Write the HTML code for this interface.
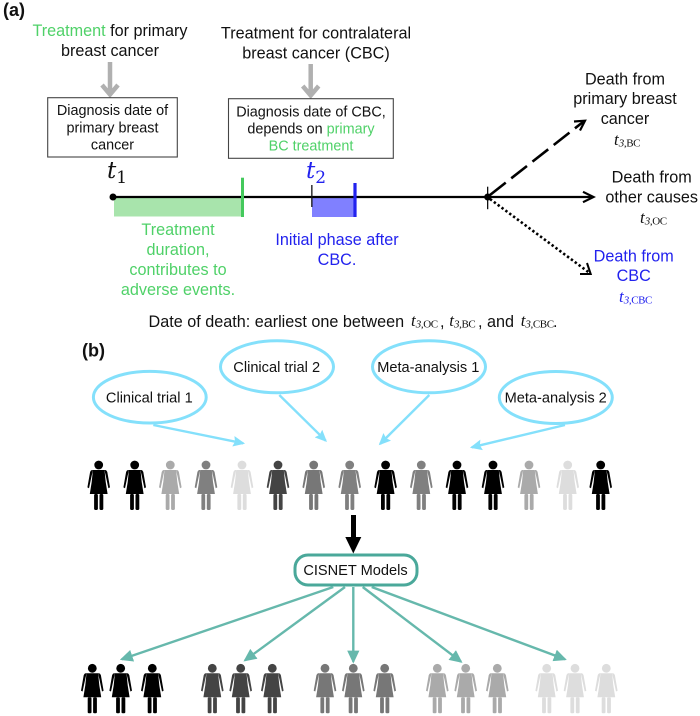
<!DOCTYPE html>
<html><head><meta charset="utf-8"><style>
html,body{margin:0;padding:0;background:#fff}
svg{display:block;filter:blur(.35px)}
text{font-family:"Liberation Sans",sans-serif;font-size:16.2px;fill:#111}
.c{text-anchor:middle}
.s{font-size:14.4px}
.m{font-size:14.6px}
.g{fill:#4fd168}
.b{fill:#2222ee}
.h{font-size:18px;font-weight:bold}
.t{font-family:"Liberation Serif",serif;font-style:italic;font-size:17px}
.t tspan{font-size:11px;letter-spacing:-.4px}
.t .u{font-style:normal}
.big{font-family:"DejaVu Serif","Liberation Serif",serif;font-style:italic;font-size:23px}
.big tspan{font-style:normal;font-size:17px}
</style></head><body>
<svg xmlns="http://www.w3.org/2000/svg" width="700" height="716" viewBox="0 0 700 716">
<defs>
<g id="p">
<circle cx="0" cy="0" r="4.4"/>
<path d="M-5.8 5H5.8L6.3 10L7 17L8.9 29H-8.9L-7 17L-6.3 10Z"/>
<path d="M5.8 5H6.8Q8 5.3 8.6 7L11.3 22.4L9.7 23.2L7 10.5L6.4 8Z"/>
<path d="M-5.8 5H-6.8Q-8 5.3-8.6 7L-11.3 22.4L-9.7 23.2L-7 10.5L-6.4 8Z"/>
<rect x="-4.6" y="29" width="3.8" height="16" rx="1.2"/>
<rect x="0.8" y="29" width="3.8" height="16" rx="1.2"/>
</g>
<marker id="ab" markerUnits="userSpaceOnUse" markerWidth="12" markerHeight="12" refX="8.5" refY="5" orient="auto" viewBox="0 0 10 10"><path d="M0 .5L10 5L0 9.5L1.5 5Z" fill="#84e0fb"/></marker>
<marker id="at" markerUnits="userSpaceOnUse" markerWidth="13" markerHeight="13" refX="8.5" refY="5" orient="auto" viewBox="0 0 10 10"><path d="M0 .3L10 5L0 9.7Z" fill="#66b8ac"/></marker>
</defs>

<text x="3" y="16" class="h">(a)</text>
<text x="110" y="36" class="c"><tspan class="g">Treatment</tspan> for primary</text>
<text x="110" y="56" class="c">breast cancer</text>
<text x="316" y="38.5" class="c">Treatment for contralateral</text>
<text x="316" y="58.5" class="c">breast cancer (CBC)</text>

<g fill="none" stroke="#b0b0b0" stroke-width="4.5">
<path d="M110 62V94M102 85L110 94.5L118 85"/>
<path d="M310.7 64V95M302.7 86L310.7 95.5L318.7 86"/>
</g>

<rect x="47.7" y="97.7" width="129.6" height="59.3" fill="#fff" stroke="#444" stroke-width="1.1"/>
<rect x="228.5" y="98.7" width="164.8" height="59.6" fill="#fff" stroke="#444" stroke-width="1.1"/>
<text x="112.5" y="115" class="c s">Diagnosis date of</text>
<text x="112.5" y="132.7" class="c s">primary breast</text>
<text x="112.5" y="149.7" class="c s">cancer</text>
<text x="311" y="116.3" class="c s">Diagnosis date of CBC,</text>
<text x="311" y="133.3" class="c s">depends on <tspan class="g">primary</tspan></text>
<text x="311" y="150.7" class="c s g">BC treatment</text>

<text x="107" y="178" class="big">t<tspan dy="5">1</tspan></text>
<text x="306" y="178" class="big b" style="fill:#2222ee">t<tspan dy="5">2</tspan></text>

<rect x="114" y="198" width="128" height="18.5" fill="#a8e4ac"/>
<rect x="312" y="198" width="43" height="19" fill="#8080ff"/>
<path d="M113 197H593" stroke="#000" stroke-width="2.2" fill="none"/>
<path d="M583 191.8L593.5 197L583 202.2" stroke="#000" stroke-width="2.2" fill="none"/>
<circle cx="113" cy="197" r="3.5"/>
<rect x="241" y="177.7" width="3" height="39.3" fill="#44c95c"/>
<rect x="311.2" y="185" width="1.3" height="22" fill="#111"/>
<rect x="353.4" y="183" width="3.2" height="34" fill="#2222ee"/>
<rect x="487" y="186.7" width="1.3" height="22.5" fill="#111"/>
<circle cx="487.7" cy="197" r="3.5"/>

<path d="M490 195L583 122" stroke="#000" stroke-width="2.6" stroke-dasharray="20 7" fill="none"/>
<path d="M574 121.5L585 120.7L580 130.5" stroke="#000" stroke-width="2.2" fill="none"/>
<path d="M490 199L589 272.5" stroke="#000" stroke-width="2.6" stroke-dasharray="2.4 2.4" fill="none"/>
<path d="M580 274L590.7 274L587 263" stroke="#000" stroke-width="2" fill="none"/>

<text x="178" y="235" class="c g">Treatment</text>
<text x="178" y="255" class="c g">duration,</text>
<text x="178" y="275" class="c g">contributes to</text>
<text x="178" y="295" class="c g">adverse events.</text>
<text x="337" y="245" class="c b">Initial phase after</text>
<text x="337" y="265" class="c b">CBC.</text>

<text x="625" y="84.3" class="c">Death from</text>
<text x="625" y="104" class="c">primary breast</text>
<text x="625" y="124" class="c">cancer</text>
<text x="614" y="145" class="t">t<tspan dy="1.5">3,</tspan><tspan class="u">BC</tspan></text>
<text x="651.7" y="182.7" class="c">Death from</text>
<text x="651.7" y="202.7" class="c">other causes</text>
<text x="640" y="223" class="t">t<tspan dy="1.5">3,</tspan><tspan class="u">OC</tspan></text>
<text x="633.7" y="261.7" class="c b">Death from</text>
<text x="633.7" y="281" class="c b">CBC</text>
<text x="619" y="302" class="t" style="fill:#2222ee">t<tspan dy="1.5">3,</tspan><tspan class="u">CBC</tspan></text>

<text x="148.5" y="327">Date of death: earliest one between</text>
<text x="411" y="326" class="t">t<tspan dy="1.5">3,</tspan><tspan class="u">OC</tspan></text>
<text x="440" y="327">,</text>
<text x="449.3" y="326" class="t">t<tspan dy="1.5">3,</tspan><tspan class="u">BC</tspan></text>
<text x="478" y="327">,</text>
<text x="487" y="327">and</text>
<text x="520.7" y="326" class="t">t<tspan dy="1.5">3,</tspan><tspan class="u">CBC</tspan></text>
<text x="553" y="327">.</text>

<text x="82" y="356.7" class="h">(b)</text>

<g fill="none" stroke="#84e0fb" stroke-width="3">
<ellipse cx="149.8" cy="397.2" rx="56.4" ry="25.8"/>
<ellipse cx="277" cy="366.8" rx="56.5" ry="26"/>
<ellipse cx="429" cy="366.8" rx="56.5" ry="26"/>
<ellipse cx="555.8" cy="397.5" rx="56.5" ry="26"/>
</g>
<text x="149.3" y="402.7" class="c m">Clinical trial 1</text>
<text x="276.7" y="372" class="c m">Clinical trial 2</text>
<text x="428.3" y="372" class="c m">Meta-analysis 1</text>
<text x="555.7" y="402.7" class="c m">Meta-analysis 2</text>

<g stroke="#84e0fb" stroke-width="2.4" fill="none">
<path d="M153.3 425L243.3 443.3" marker-end="url(#ab)"/>
<path d="M279.3 395L325.7 440.7" marker-end="url(#ab)"/>
<path d="M429.3 395L380 444" marker-end="url(#ab)"/>
<path d="M565 425L471.7 447.3" marker-end="url(#ab)"/>
</g>

<use href="#p" x="98.7" y="465" fill="#000"/>
<use href="#p" x="134.7" y="465" fill="#000"/>
<use href="#p" x="170.3" y="465" fill="#aaa"/>
<use href="#p" x="206" y="465" fill="#808080"/>
<use href="#p" x="242" y="465" fill="#ddd"/>
<use href="#p" x="278" y="465" fill="#444"/>
<use href="#p" x="313.7" y="465" fill="#777"/>
<use href="#p" x="349.7" y="465" fill="#808080"/>
<use href="#p" x="385.6" y="465" fill="#000"/>
<use href="#p" x="421.3" y="465" fill="#808080"/>
<use href="#p" x="457" y="465" fill="#000"/>
<use href="#p" x="493" y="465" fill="#000"/>
<use href="#p" x="529" y="465" fill="#aaa"/>
<use href="#p" x="567.7" y="465" fill="#ddd"/>
<use href="#p" x="600.7" y="465" fill="#000"/>

<rect x="351" y="515" width="5" height="24"/>
<path d="M345.3 537H361.3L353.3 553.5Z"/>

<rect x="295" y="555" width="122" height="30" rx="13" fill="#fff" stroke="#4aa89a" stroke-width="3"/>
<text x="355.5" y="575" class="c m">CISNET Models</text>

<g stroke="#66b8ac" stroke-width="2.4" fill="none">
<path d="M333.3 587L121.7 659.3" marker-end="url(#at)"/>
<path d="M345 587L245 660.3" marker-end="url(#at)"/>
<path d="M353.3 587V661.7" marker-end="url(#at)"/>
<path d="M362.7 587L461 661.7" marker-end="url(#at)"/>
<path d="M371.7 587L565 659.3" marker-end="url(#at)"/>
</g>

<use href="#p" x="92.3" y="668.3" fill="#000"/>
<use href="#p" x="120.7" y="668.3" fill="#000"/>
<use href="#p" x="152.3" y="668.3" fill="#000"/>
<use href="#p" x="212.3" y="668.3" fill="#444"/>
<use href="#p" x="240.7" y="668.3" fill="#444"/>
<use href="#p" x="272.3" y="668.3" fill="#444"/>
<use href="#p" x="325" y="668.3" fill="#777"/>
<use href="#p" x="353.3" y="668.3" fill="#777"/>
<use href="#p" x="384.7" y="668.3" fill="#777"/>
<use href="#p" x="437.3" y="668.3" fill="#aaa"/>
<use href="#p" x="465.7" y="668.3" fill="#aaa"/>
<use href="#p" x="497.3" y="668.3" fill="#aaa"/>
<use href="#p" x="546.7" y="668.3" fill="#ddd"/>
<use href="#p" x="575" y="668.3" fill="#ddd"/>
<use href="#p" x="606.3" y="668.3" fill="#ddd"/>
</svg>
</body></html>
